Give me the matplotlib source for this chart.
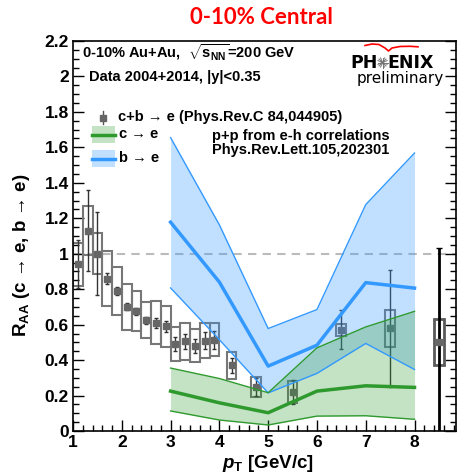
import numpy as np
import matplotlib
matplotlib.use("Agg")
import matplotlib.pyplot as plt
from matplotlib.patches import Rectangle
from matplotlib.ticker import MultipleLocator, FuncFormatter

plt.rcParams['font.family'] = ['Liberation Sans', 'DejaVu Sans']
plt.rcParams['font.weight'] = 'bold'
plt.rcParams['mathtext.fontset'] = 'custom'
plt.rcParams['mathtext.rm'] = 'Liberation Sans:bold'
plt.rcParams['mathtext.bf'] = 'Liberation Sans:bold'
plt.rcParams['mathtext.it'] = 'Liberation Sans:italic:bold'

# c+b -> e  (Phys.Rev.C 84,044905 + 2014 data)
pt = [1.1, 1.3, 1.5, 1.7, 1.9, 2.1, 2.3, 2.5, 2.7, 2.9, 3.1, 3.3, 3.5, 3.7, 3.9,
      4.25, 4.75, 5.5, 6.5, 7.5, 8.5]
raa = [0.94, 1.13, 1.00, 0.86, 0.79, 0.70, 0.675, 0.625, 0.61, 0.59, 0.49, 0.505,
       0.48, 0.51, 0.515, 0.37, 0.25, 0.22, 0.57, 0.58, 0.50]
stat_lo = [0.135, 0.23, 0.235, 0.03, 0.025, 0.02, 0.02, 0.02, 0.03, 0.03, 0.04, 0.04,
           0.04, 0.05, 0.05, 0.04, 0.05, 0.07, 0.11, 0.33, 0.60]
stat_hi = [0.135, 0.23, 0.235, 0.03, 0.025, 0.02, 0.02, 0.02, 0.03, 0.03, 0.04, 0.04,
           0.04, 0.05, 0.05, 0.04, 0.05, 0.07, 0.11, 0.33, 0.53]
sys_err = [0.12, 0.137, 0.115, 0.155, 0.136, 0.131, 0.113, 0.10, 0.122, 0.115, 0.094,
           0.103, 0.093, 0.097, 0.094, 0.074, 0.057, 0.06, 0.034, 0.104, 0.13]

# c -> e and b -> e from e-h correlations
band_pt = [3, 4, 5, 6, 7, 8]
c_mid = [0.225, 0.159, 0.103, 0.225, 0.255, 0.246]
c_hi = [0.355, 0.296, 0.216, 0.469, 0.587, 0.675]
c_lo = [0.113, 0.062, 0.034, 0.084, 0.086, 0.066]
b_mid = [1.178, 0.84, 0.366, 0.484, 0.837, 0.806]
b_hi = [1.655, 1.163, 0.578, 0.685, 1.277, 1.568]
b_lo = [0.807, 0.515, 0.215, 0.325, 0.494, 0.347]

W, H = 458, 472
fig = plt.figure(figsize=(W / 100, H / 100), dpi=100)
ax = fig.add_axes([73 / W, 1 - 431 / H, (456 - 73) / W, (431 - 41) / H])
ax.set_xlim(1, 8.85)
ax.set_ylim(0, 2.2)

ax.axhline(1, color='#bbbbbb', ls=(0, (4, 3)), lw=1.5, zorder=1)

# data: boxes = systematics, bars = statistics
for i, (x, y, s) in enumerate(zip(pt, raa, sys_err)):
    last = i == len(pt) - 1
    ax.add_patch(Rectangle((x - 0.1, y - s), 0.2, 2 * s, fill=False,
                           ec='#5a5a5a' if last else '#777777',
                           lw=2 if last else 1.5, zorder=2))
ax.errorbar(pt[:-1], raa[:-1], yerr=[stat_lo[:-1], stat_hi[:-1]], fmt='none',
            ecolor='#333333', elinewidth=1, capsize=1.5, zorder=3)
ax.errorbar(pt[-1:], raa[-1:], yerr=[stat_lo[-1:], stat_hi[-1:]], fmt='none',
            ecolor='black', elinewidth=2, capsize=2, zorder=3)
ax.plot(pt, raa, 's', color='#666666', ms=5, zorder=4)

# bands
blue = '#3399ff'
green = '#2e9a2e'
ax.fill_between(band_pt, b_lo, b_hi, color=blue, alpha=0.3, lw=0, zorder=5)
ax.plot(band_pt, b_lo, color=blue, lw=1, zorder=6)
ax.plot(band_pt, b_hi, color=blue, lw=1, zorder=6)
ax.plot(band_pt, b_mid, color=blue, lw=2.5, zorder=6)
ax.fill_between(band_pt, c_lo, c_hi, color=green, alpha=0.28, lw=0, zorder=5)
ax.plot(band_pt, c_lo, color=green, lw=1, zorder=6)
ax.plot(band_pt, c_hi, color=green, lw=1, zorder=6)
ax.plot(band_pt, c_mid, color=green, lw=2.5, zorder=6)

ax.xaxis.set_major_locator(MultipleLocator(1))
ax.xaxis.set_minor_locator(MultipleLocator(0.2))
ax.yaxis.set_major_locator(MultipleLocator(0.2))
ax.yaxis.set_minor_locator(MultipleLocator(0.05))
ax.yaxis.set_major_formatter(FuncFormatter(lambda v, p: '%g' % round(v, 2)))
ax.tick_params(which='both', direction='in', right=True, top=False, width=1)
ax.tick_params(which='major', length=8, labelsize=12.5, pad=3)
ax.tick_params(which='minor', length=4)
for sp in ax.spines.values():
    sp.set_linewidth(1.2)

# overlay in pixel coordinates for labels, legend, logo
ov = fig.add_axes([0, 0, 1, 1])
ov.set_xlim(0, W)
ov.set_ylim(H, 0)
ov.axis('off')

ov.text(261, 17, '0-10% Central', color='red', fontsize=16, fontweight='bold',
        family='Lato', ha='center', va='center')
ov.text(82, 53, r'0-10% Au+Au,  $\sqrt{\mathbf{s}_{\mathbf{NN}}}$=200 GeV',
        fontsize=10.5, va='center')
ov.text(89, 77, 'Data 2004+2014, |y|<0.35', fontsize=10.5, va='center')

ov.plot([103, 103], [111, 124], color='#555555', lw=1)
ov.plot([103], [117.5], 's', color='#666666', ms=5)
ov.text(118, 117.5, 'c+b → e (Phys.Rev.C 84,044905)', fontsize=10.5, va='center')
ov.add_patch(Rectangle((92, 126), 23, 17, color=green, alpha=0.28, lw=0))
ov.plot([92, 115], [134.5, 134.5], color=green, lw=2.5)
ov.text(119, 134, 'c → e', fontsize=10.5, va='center')
ov.add_patch(Rectangle((92, 150), 23, 17, color=blue, alpha=0.3, lw=0))
ov.plot([92, 115], [158.5, 158.5], color=blue, lw=2.5)
ov.text(119, 158, 'b → e', fontsize=10.5, va='center')

ov.text(301, 136, 'p+p from e-h correlations', fontsize=10.5, ha='center', va='center')
ov.text(301, 150, 'Phys.Rev.Lett.105,202301', fontsize=10.5, ha='center', va='center')

ov.text(22, 255, r'R$_{\mathbf{AA}}$ (c → e, b → e)', fontsize=13.5, rotation=90,
        ha='center', va='center')
ov.text(268, 463, r'$p_{\mathbf{T}}$ [GeV/c]', fontsize=13.5, ha='center', va='center')

# PHENIX logo
ov.text(378, 63, 'PH', fontsize=12.5, ha='right', va='center', family='DejaVu Sans')
ov.text(387, 63, 'ENIX', fontsize=12.5, ha='left', va='center', family='DejaVu Sans')
for a in np.linspace(0, np.pi, 8, endpoint=False):
    ov.plot([382.5 - 5 * np.cos(a), 382.5 + 5 * np.cos(a)],
            [62.5 - 5 * np.sin(a), 62.5 + 5 * np.sin(a)], color='#777777', lw=0.7)
ov.plot([365, 372, 379, 385, 388.5, 392, 400, 410, 418],
        [45.5, 44, 44.5, 48, 51, 48, 46.5, 46.3, 46.8], color='red', lw=1.2)
ov.text(400, 79, 'preliminary', fontsize=11, ha='center', va='center',
        family='DejaVu Sans', fontweight='normal')

fig.savefig('out.png', dpi=100)
